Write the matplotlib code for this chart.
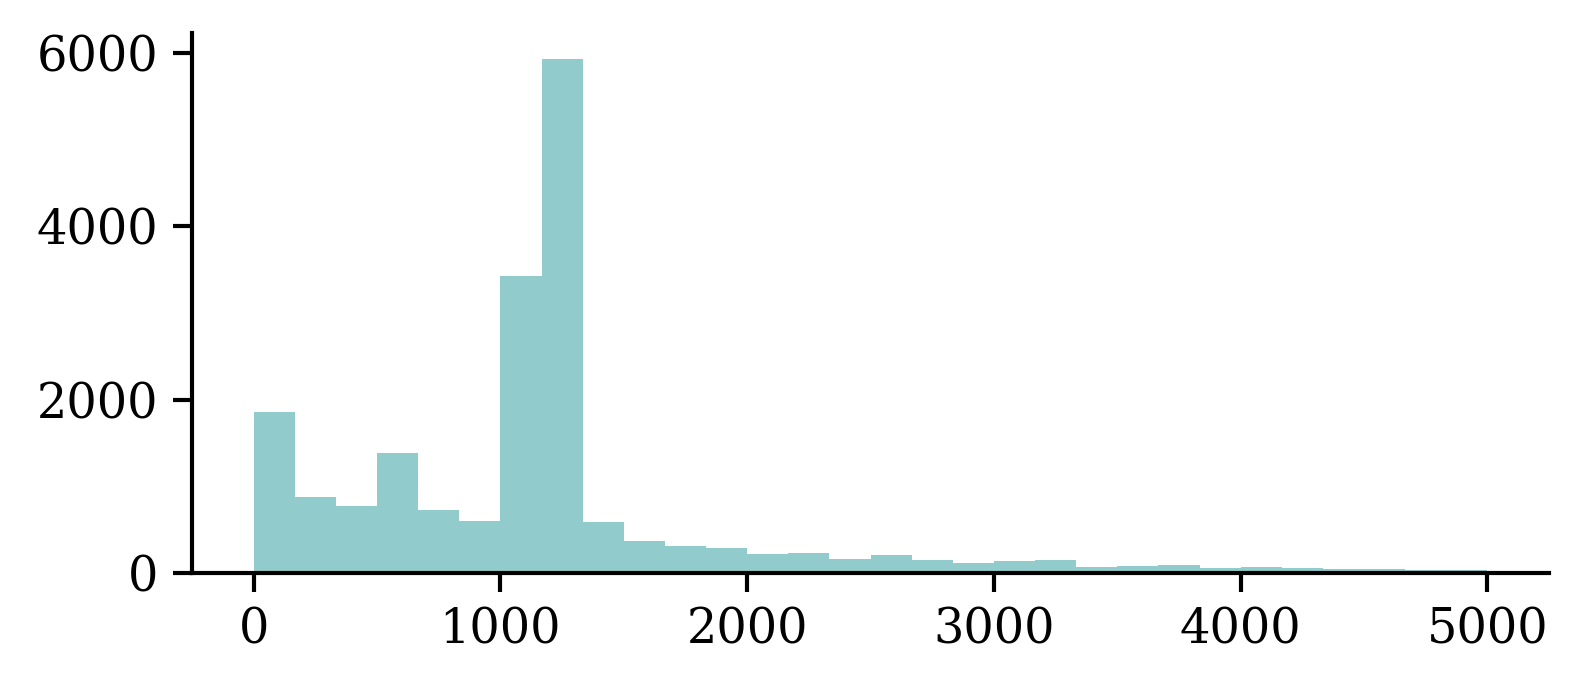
import numpy as np
import matplotlib
matplotlib.use("Agg")
import matplotlib.pyplot as plt

bin_edges = np.linspace(0, 5000, 31)
counts = [1860, 881, 776, 1382, 730, 602, 3422, 5930, 590, 369,
          310, 287, 217, 229, 163, 209, 151, 116, 139, 151,
          69, 81, 93, 58, 69, 58, 46, 46, 35, 35]
xticks = [0, 1000, 2000, 3000, 4000, 5000]
yticks = [0, 2000, 4000, 6000]

plt.rcParams['font.family'] = ['DejaVu Serif']
fig = plt.figure(figsize=(5.28, 2.3), dpi=300)
ax = fig.add_axes([0.1212, 0.1696, 0.978 - 0.1212, 0.952 - 0.1696])
centers = (bin_edges[:-1] + bin_edges[1:]) / 2
ax.hist(centers, bins=bin_edges, weights=counts, color="#92cbcb")
ax.set_xticks(xticks)
ax.set_yticks(yticks)
ax.spines['top'].set_visible(False)
ax.spines['right'].set_visible(False)
for s in ['left', 'bottom']:
    ax.spines[s].set_linewidth(1.0)
ax.tick_params(axis='both', labelsize=11.5, length=4.6, width=1.0)
fig.savefig("out.png", dpi=300)
